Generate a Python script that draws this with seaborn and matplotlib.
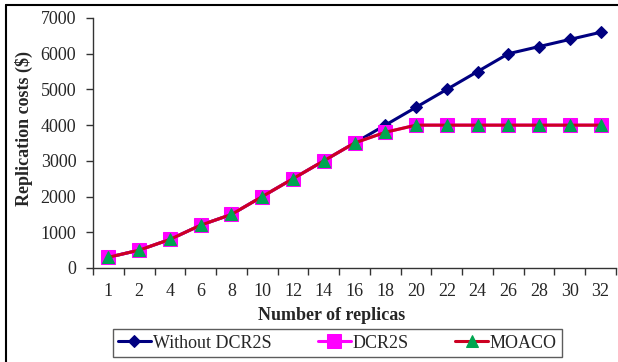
import matplotlib
matplotlib.use("Agg")
import matplotlib.pyplot as plt
from matplotlib.lines import Line2D
import seaborn as sns
import pandas as pd

# Replica counts on the category axis
replicas = ["1", "2", "4", "6", "8", "10", "12", "14", "16",
            "18", "20", "22", "24", "26", "28", "30", "32"]

# Replication costs ($) per strategy
without_dcr2s = [300, 500, 800, 1200, 1500, 2000, 2500, 3000, 3500,
                 4000, 4500, 5000, 5500, 6000, 6200, 6400, 6600]
dcr2s = [300, 500, 800, 1200, 1500, 2000, 2500, 3000, 3500,
         3800, 4000, 4000, 4000, 4000, 4000, 4000, 4000]
moaco = [300, 500, 800, 1200, 1500, 2000, 2500, 3000, 3500,
         3800, 4000, 4000, 4000, 4000, 4000, 4000, 4000]

y_ticks = [0, 1000, 2000, 3000, 4000, 5000, 6000, 7000]

sns.set_style("white")
plt.rcParams["font.family"] = ["Liberation Serif", "DejaVu Serif"]

pos = list(range(len(replicas)))
df = pd.DataFrame({"pos": pos, "without": without_dcr2s,
                   "dcr2s": dcr2s, "moaco": moaco})

fig = plt.figure(figsize=(6.18, 3.62), dpi=100)
ax = fig.add_axes([93 / 618, 1 - 268 / 362, 523 / 618, 250 / 362])

sns.lineplot(data=df, x="pos", y="without", ax=ax, color="#000080",
             linewidth=2.2, marker="D", markersize=6.6,
             markerfacecolor="#000080", markeredgecolor="#000080",
             label="Without DCR2S", zorder=3)
sns.lineplot(data=df, x="pos", y="dcr2s", ax=ax, color="#FF00FF",
             linewidth=2.2, marker="s", markersize=9.4,
             markerfacecolor="#FF00FF", markeredgecolor="#FF00FF",
             label="DCR2S", zorder=4)
sns.lineplot(data=df, x="pos", y="moaco", ax=ax, color="#CC0022",
             linewidth=2.2, marker="^", markersize=9,
             markerfacecolor="#00A550", markeredgecolor="#00A550",
             label="MOACO", zorder=5)

ax.set_xlim(-0.5, len(replicas) - 0.5)
ax.set_ylim(0, 7000)
ax.set_yticks(y_ticks)
ax.set_yticklabels([str(v) for v in y_ticks], fontsize=13)

# category boundaries carry the tick marks, centres carry the labels
ax.set_xticks([p - 0.5 for p in pos] + [len(replicas) - 0.5])
ax.set_xticklabels([])
ax.set_xticks(pos, minor=True)
ax.set_xticklabels(replicas, minor=True, fontsize=13)
ax.tick_params(axis="x", which="major", direction="out", length=5,
               width=1, color="#333333", bottom=True)
ax.tick_params(axis="x", which="minor", length=0, pad=11)
ax.tick_params(axis="y", direction="out", length=5, width=1,
               color="#333333", left=True, pad=7)

for side in ("top", "right"):
    ax.spines[side].set_visible(False)
for side in ("left", "bottom"):
    ax.spines[side].set_color("#333333")
    ax.spines[side].set_linewidth(1)

ax.set_xlabel("Number of replicas", fontsize=13, fontweight="bold")
ax.set_ylabel("Replication costs ($)", fontsize=13, fontweight="bold")
ax.xaxis.set_label_coords((332 - 93) / 523, -(315 - 268) / 250,
                          transform=ax.transAxes)
ax.yaxis.set_label_coords(-(93 - 24) / 523, (268 - 128) / 250,
                          transform=ax.transAxes)
ax.xaxis.label.set_verticalalignment("center")
ax.yaxis.label.set_verticalalignment("center")
ax.get_legend().remove()

handles, labels = ax.get_legend_handles_labels()
leg = fig.legend(handles, labels, loc="center", ncol=3,
                 bbox_to_anchor=(71 / 618, 1 - 358 / 362, 533 / 618, 30 / 362),
                 fontsize=13, frameon=True, fancybox=False,
                 edgecolor="#333333", handlelength=1.8, handletextpad=0.1,
                 columnspacing=2.6, borderpad=0.3)
leg.get_frame().set_linewidth(1)

# outer frame edges
fig.add_artist(Line2D([6 / 618, 6 / 618], [0, 1 - 5 / 362],
                      transform=fig.transFigure, color="black", linewidth=1.5))
fig.add_artist(Line2D([6 / 618, 1], [1 - 5 / 362, 1 - 5 / 362],
                      transform=fig.transFigure, color="black", linewidth=1.5))

fig.savefig("out.png", dpi=100)
